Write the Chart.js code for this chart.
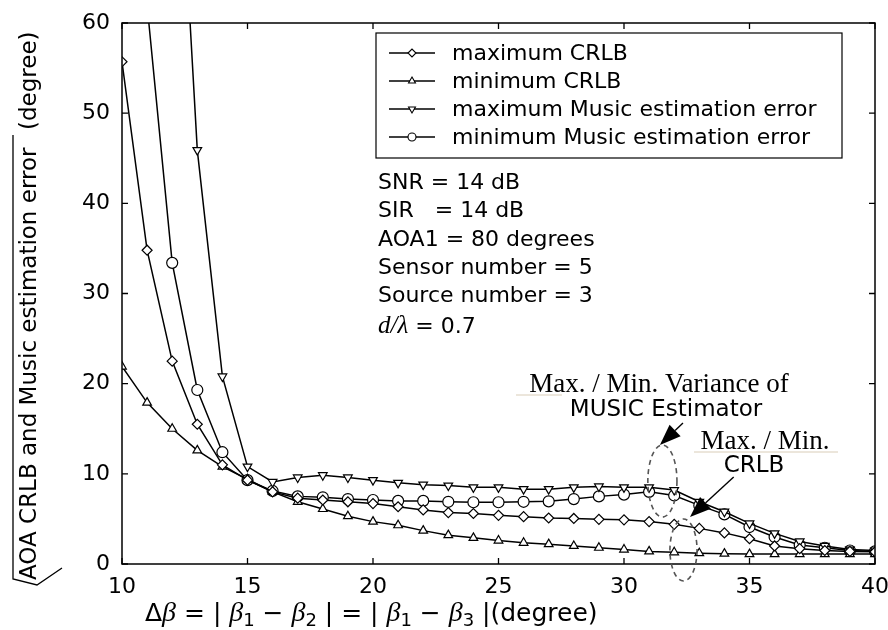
<!DOCTYPE html>
<html>
<head>
<meta charset="utf-8">
<script src="https://cdn.jsdelivr.net/npm/chart.js@4/dist/chart.umd.min.js"></script>
<style>
  html, body { margin: 0; padding: 0; background: #fff; }
</style>
</head>
<body>
<canvas id="crlb-chart" width="888" height="630"></canvas>
<script>
// angle separation |b1 - b2| = |b1 - b3| in degrees
const angleSep = [10, 11, 12, 13, 14, 15, 16, 17, 18, 19, 20, 21, 22, 23, 24, 25,
                  26, 27, 28, 29, 30, 31, 32, 33, 34, 35, 36, 37, 38, 39, 40];

// sqrt of CRLB / MUSIC error, degrees
const maxCrlb = [55.7, 34.8, 22.5, 15.5, 11.0, 9.3, 8.0, 7.3, 7.1, 6.9, 6.7, 6.35, 6.0, 5.7, 5.6, 5.4,
                 5.25, 5.1, 5.05, 4.95, 4.9, 4.7, 4.4, 3.95, 3.45, 2.8, 2.0, 1.7, 1.5, 1.4, 1.35];
const minCrlb = [21.9, 17.9, 15.0, 12.6, 10.8, 9.4, 8.0, 6.9, 6.1, 5.3, 4.7, 4.3, 3.7, 3.2, 2.9, 2.6,
                 2.35, 2.2, 2.0, 1.8, 1.6, 1.4, 1.3, 1.2, 1.15, 1.1, 1.1, 1.1, 1.1, 1.1, 1.1];
const maxMusic = [null, null, 95, 45.9, 20.8, 10.8, 9.1, 9.6, 9.85, 9.6, 9.3, 9.0, 8.8, 8.7, 8.5, 8.5,
                  8.3, 8.3, 8.5, 8.6, 8.5, 8.5, 8.2, 6.9, 5.8, 4.5, 3.4, 2.5, 2.0, 1.6, 1.5];
const minMusic = [null, 62, 33.4, 19.3, 12.4, 9.3, 8.1, 7.5, 7.4, 7.2, 7.1, 7.0, 7.0, 6.9, 6.85, 6.85,
                  6.9, 6.95, 7.2, 7.5, 7.7, 8.0, 7.6, 6.5, 5.5, 4.1, 3.0, 2.1, 1.8, 1.5, 1.4];

const seriesLabels = ['maximum CRLB', 'minimum CRLB', 'maximum Music estimation error', 'minimum Music estimation error'];

const xTicks = [10, 15, 20, 25, 30, 35, 40];
const yTicks = [0, 10, 20, 30, 40, 50, 60];

const infoLines = ['SNR = 14 dB', 'SIR   = 14 dB', 'AOA1 = 80 degrees', 'Sensor number = 5', 'Source number = 3'];

const SANS = '"DejaVu Sans", sans-serif';
const SERIF = '"Liberation Serif", serif';

const toPoints = ys => angleSep.map((x, i) => ({ x: x, y: ys[i] }));

function lineSet(label, ys, style, rotation, radius) {
    return {
        label: label,
        data: toPoints(ys),
        borderColor: '#000',
        borderWidth: 1.5,
        backgroundColor: '#fff',
        pointStyle: style,
        pointRotation: rotation,
        pointRadius: radius,
        pointBorderWidth: 1.2,
        pointBorderColor: '#000',
        pointBackgroundColor: '#fff',
        tension: 0,
        spanGaps: false
    };
}

// frame with inward ticks on all four sides
const framePlugin = {
    id: 'frame',
    afterDatasetsDraw(chart) {
        const { ctx, chartArea: a, scales: { x, y } } = chart;
        ctx.save();
        ctx.strokeStyle = '#000';
        ctx.lineWidth = 1.5;
        ctx.strokeRect(a.left, a.top, a.right - a.left, a.bottom - a.top);
        ctx.lineWidth = 1.3;
        ctx.beginPath();
        const len = 6;
        xTicks.forEach(v => {
            const px = x.getPixelForValue(v);
            ctx.moveTo(px, a.bottom); ctx.lineTo(px, a.bottom - len);
            ctx.moveTo(px, a.top); ctx.lineTo(px, a.top + len);
        });
        yTicks.forEach(v => {
            const py = y.getPixelForValue(v);
            ctx.moveTo(a.left, py); ctx.lineTo(a.left + len, py);
            ctx.moveTo(a.right, py); ctx.lineTo(a.right - len, py);
        });
        ctx.stroke();
        ctx.restore();
    }
};

// boxed legend: line sample with marker, then label
const legendPlugin = {
    id: 'boxLegend',
    afterDraw(chart) {
        const ctx = chart.ctx;
        const box = { left: 376, top: 33, right: 842, bottom: 158 };
        ctx.save();
        ctx.fillStyle = '#fff';
        ctx.fillRect(box.left, box.top, box.right - box.left, box.bottom - box.top);
        ctx.strokeStyle = '#000';
        ctx.lineWidth = 1.2;
        ctx.strokeRect(box.left, box.top, box.right - box.left, box.bottom - box.top);
        chart.data.datasets.forEach((ds, i) => {
            const cy = 53 + i * 28;
            ctx.strokeStyle = '#000';
            ctx.lineWidth = 1.5;
            ctx.beginPath();
            ctx.moveTo(389, cy); ctx.lineTo(435, cy);
            ctx.stroke();
            ctx.fillStyle = '#fff';
            ctx.lineWidth = 1.1;
            Chart.helpers.drawPoint(ctx, { pointStyle: ds.pointStyle, rotation: ds.pointRotation, radius: 4, borderWidth: 1.1 }, 412, cy);
            ctx.fillStyle = '#000';
            ctx.font = '22px ' + SANS;
            ctx.textBaseline = 'middle';
            ctx.fillText(ds.label, 452, cy + 1);
        });
        ctx.restore();
    }
};

function drawRuns(ctx, x, y, runs) {
    runs.forEach(r => {
        ctx.font = r.f;
        ctx.fillText(r.t, x, y + (r.dy || 0));
        x += ctx.measureText(r.t).width;
    });
}

function arrow(ctx, x0, y0, x1, y1) {
    const ang = Math.atan2(y1 - y0, x1 - x0);
    const hl = 21, hw = 8;
    ctx.beginPath();
    ctx.moveTo(x0, y0);
    ctx.lineTo(x1 - hl * Math.cos(ang), y1 - hl * Math.sin(ang));
    ctx.stroke();
    ctx.beginPath();
    ctx.moveTo(x1, y1);
    ctx.lineTo(x1 - hl * Math.cos(ang) + hw * Math.sin(ang), y1 - hl * Math.sin(ang) - hw * Math.cos(ang));
    ctx.lineTo(x1 - hl * Math.cos(ang) - hw * Math.sin(ang), y1 - hl * Math.sin(ang) + hw * Math.cos(ang));
    ctx.closePath();
    ctx.fill();
}

// axis titles, parameter block and the MUSIC / CRLB callouts
const notesPlugin = {
    id: 'notes',
    afterDraw(chart) {
        const { ctx, scales: { x, y } } = chart;
        ctx.save();
        ctx.fillStyle = '#000';
        ctx.strokeStyle = '#000';

        // parameters
        ctx.textBaseline = 'middle';
        ctx.font = '22px ' + SANS;
        infoLines.forEach((t, i) => ctx.fillText(t, 378, 183 + i * 28.4));
        ctx.textBaseline = 'alphabetic';
        drawRuns(ctx, 378, 333, [
            { t: 'd/\u03bb', f: 'italic 25px ' + SERIF },
            { t: ' = 0.7', f: '22px ' + SANS }
        ]);

        // x title
        const s = '25px ' + SANS, g = 'italic 28px ' + SERIF, sub = '18px ' + SANS;
        drawRuns(ctx, 145, 621, [
            { t: '\u0394', f: s }, { t: '\u03b2', f: g }, { t: ' = | ', f: s },
            { t: '\u03b2', f: g }, { t: '1', f: sub, dy: 5 }, { t: ' \u2212 ', f: s },
            { t: '\u03b2', f: g }, { t: '2', f: sub, dy: 5 }, { t: ' | = | ', f: s },
            { t: '\u03b2', f: g }, { t: '1', f: sub, dy: 5 }, { t: ' \u2212 ', f: s },
            { t: '\u03b2', f: g }, { t: '3', f: sub, dy: 5 }, { t: ' |(degree)', f: s }
        ]);

        // y title with square root sign
        ctx.save();
        ctx.translate(36, 580);
        ctx.rotate(-Math.PI / 2);
        ctx.font = '23px ' + SANS;
        ctx.fillText('AOA CRLB and Music estimation error', 0, 0);
        ctx.fillText('(degree)', 450, 0);
        ctx.restore();
        ctx.lineWidth = 1.3;
        ctx.beginPath();
        ctx.moveTo(13, 135);
        ctx.lineTo(13, 579);
        ctx.lineTo(37, 585);
        ctx.lineTo(62, 568);
        ctx.stroke();

        // callout texts
        ctx.textAlign = 'center';
        ctx.textBaseline = 'alphabetic';
        ctx.font = '27px ' + SERIF;
        ctx.fillText('Max. / Min. Variance of', 659, 392);
        ctx.fillText('Max. / Min.', 765, 449);
        ctx.font = '23px ' + SANS;
        ctx.fillText('MUSIC Estimator', 666, 416);
        ctx.fillText('CRLB', 754, 472);
        ctx.strokeStyle = '#d9cdb8';
        ctx.lineWidth = 1;
        ctx.beginPath();
        ctx.moveTo(516, 395); ctx.lineTo(562, 395);
        ctx.moveTo(694, 452); ctx.lineTo(838, 452);
        ctx.stroke();

        // dashed ellipses around the clusters near 32 degrees
        ctx.strokeStyle = '#555';
        ctx.lineWidth = 1.6;
        ctx.setLineDash([5, 4]);
        [[31.53, 9.2, 0.58, 4.0], [32.37, 1.55, 0.54, 3.44]].forEach(([cx, cy, rx, ry]) => {
            const px = x.getPixelForValue(cx), py = y.getPixelForValue(cy);
            ctx.beginPath();
            ctx.ellipse(px, py, Math.abs(x.getPixelForValue(cx + rx) - px), Math.abs(y.getPixelForValue(cy + ry) - py), 0, 0, Math.PI * 2);
            ctx.stroke();
        });
        ctx.setLineDash([]);

        // arrows from the labels to the ellipses
        ctx.strokeStyle = '#000';
        ctx.fillStyle = '#000';
        ctx.lineWidth = 1.4;
        [[32.35, 15.64, 31.43, 13.2], [34.37, 9.65, 32.63, 5.2]].forEach(([a, b, c, d]) => {
            arrow(ctx, x.getPixelForValue(a), y.getPixelForValue(b), x.getPixelForValue(c), y.getPixelForValue(d));
        });
        ctx.restore();
    }
};

const whiteBg = {
    id: 'whiteBg',
    beforeDraw(chart) {
        const ctx = chart.ctx;
        ctx.save();
        ctx.fillStyle = '#fff';
        ctx.fillRect(0, 0, chart.width, chart.height);
        ctx.restore();
    }
};

const tickFont = { family: SANS, size: 22 };

new Chart(document.getElementById('crlb-chart').getContext('2d'), {
    type: 'line',
    data: {
        datasets: [
            lineSet(seriesLabels[0], maxCrlb, 'rectRot', 0, 5),
            lineSet(seriesLabels[1], minCrlb, 'triangle', 0, 5),
            lineSet(seriesLabels[2], maxMusic, 'triangle', 180, 5),
            lineSet(seriesLabels[3], minMusic, 'circle', 0, 5.5)
        ]
    },
    options: {
        responsive: false,
        animation: false,
        events: [],
        layout: { padding: { top: 23, right: 13, left: 0, bottom: 0 } },
        plugins: { legend: { display: false }, tooltip: { enabled: false } },
        scales: {
            x: {
                type: 'linear',
                min: 10,
                max: 40,
                afterFit: s => { s.height = 66; s.paddingLeft = 0; s.paddingRight = 0; },
                afterBuildTicks: s => { s.ticks = xTicks.map(v => ({ value: v })); },
                grid: { display: false, drawTicks: false },
                border: { display: false },
                ticks: { padding: 10, color: '#000', font: tickFont, maxRotation: 0 }
            },
            y: {
                type: 'linear',
                min: 0,
                max: 60,
                afterFit: s => { s.width = 122; s.paddingTop = 0; s.paddingBottom = 0; },
                afterBuildTicks: s => { s.ticks = yTicks.map(v => ({ value: v })); },
                grid: { display: false, drawTicks: false },
                border: { display: false },
                ticks: { padding: 12, color: '#000', font: tickFont }
            }
        }
    },
    plugins: [whiteBg, framePlugin, legendPlugin, notesPlugin]
});
</script>
</body>
</html>
